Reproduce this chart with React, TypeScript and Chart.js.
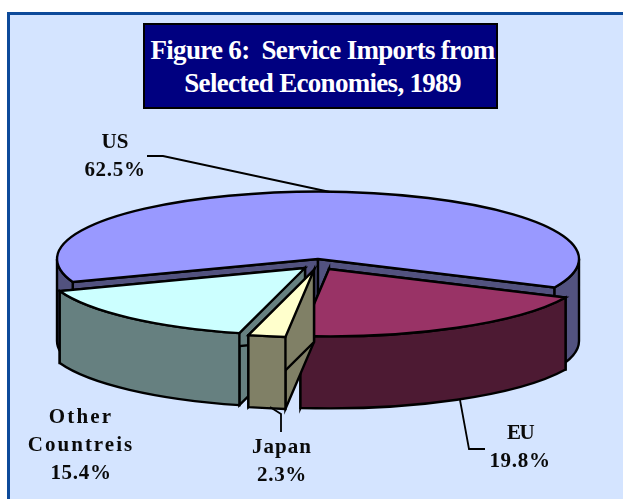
import React, { useEffect, useRef } from "react";
import { Chart, registerables } from "chart.js";

Chart.register(...registerables);

const categories = ["US", "EU", "Japan", "Other Countreis"];
const shares = [62.5, 19.8, 2.3, 15.4];
const valueLabels = ["62.5%", "19.8%", "2.3%", "15.4%"];
const topColors = ["#9999ff", "#993366", "#ffffcc", "#ccffff"];
const wallColors = ["#52527f", "#4d1a33", "#808066", "#668080"];
const explodeX = [0, 11, -4, -13];
const explodeY = [0, 10, 11, 9];
const depths = [82, 72, 72, 72];
const drawOrder = [0, 3, 1, 2];

const CX = 318;
const CY = 259;
const RX = 261;
const SQUASH = 0.258;
const OUTLINE = "#000000";

const labelLayout = [
  { lines: ["US", valueLabels[0]], x: 115, y: [143, 171], spacing: [0, 0.7] },
  { lines: ["EU", valueLabels[1]], x: 520, y: [434, 462], spacing: [-1.5, 0.7] },
  { lines: ["Japan", valueLabels[2]], x: 282, y: [448, 476], spacing: [1, 0.7] },
  { lines: ["Other", "Countreis", valueLabels[3]], x: 81, y: [418, 446, 474], spacing: [2.2, 2, 0.7] },
];
const leaders = [
  [[147, 156], [163, 156], [330, 192]],
  [[460, 400], [469, 449], [485, 449]],
  [[270, 407], [281, 414], [281, 432]],
];

const pie3d = {
  id: "pie3d",
  beforeDatasetsDraw(chart: any) {
    const ctx: CanvasRenderingContext2D = chart.ctx;
    const arcs = chart.getDatasetMeta(0).data;
    ctx.save();
    ctx.lineJoin = "miter";
    ctx.lineWidth = 2.4;
    ctx.strokeStyle = OUTLINE;
    for (const i of drawOrder) {
      const arc = arcs[i];
      const { startAngle: a0, endAngle: a1, outerRadius: r } = arc.getProps(["startAngle", "endAngle", "outerRadius"]);
      const cx = CX + explodeX[i];
      const cy = CY + explodeY[i];
      const ry = r * SQUASH;
      const d = depths[i];
      const px = (a: number) => cx + Math.cos(a) * r;
      const py = (a: number) => cy + Math.sin(a) * ry;

      ctx.fillStyle = wallColors[i];
      for (const a of [a0, a1]) {
        ctx.beginPath();
        ctx.moveTo(cx, cy);
        ctx.lineTo(px(a), py(a));
        ctx.lineTo(px(a), py(a) + d);
        ctx.lineTo(cx, cy + d);
        ctx.closePath();
        ctx.fill();
        ctx.stroke();
      }

      const ranges: [number, number][] = [];
      for (let k = -1; k <= 2; k++) {
        const s = Math.max(a0, k * 2 * Math.PI);
        const e = Math.min(a1, k * 2 * Math.PI + Math.PI);
        if (e > s) ranges.push([s, e]);
      }
      for (const [s, e] of ranges) {
        ctx.beginPath();
        ctx.ellipse(cx, cy, r, ry, 0, s, e, false);
        ctx.ellipse(cx, cy + d, r, ry, 0, e, s, true);
        ctx.closePath();
        ctx.fill();
        ctx.stroke();
      }

      ctx.save();
      ctx.translate(cx, cy);
      ctx.scale(1, SQUASH);
      ctx.translate(-arc.x, -arc.y);
      arc.draw(ctx);
      ctx.restore();

      ctx.beginPath();
      ctx.moveTo(cx, cy);
      ctx.ellipse(cx, cy, r, ry, 0, a0, a1, false);
      ctx.closePath();
      ctx.stroke();
    }

    ctx.lineWidth = 1.8;
    for (const path of leaders) {
      ctx.beginPath();
      path.forEach(([x, y], k) => (k ? ctx.lineTo(x, y) : ctx.moveTo(x, y)));
      ctx.stroke();
    }

    ctx.fillStyle = "#0a0a0a";
    ctx.font = 'bold 21px "Liberation Serif"';
    ctx.textAlign = "center";
    ctx.textBaseline = "middle";
    for (const item of labelLayout) {
      item.lines.forEach((t, k) => {
        (ctx as any).letterSpacing = `${item.spacing[k]}px`;
        ctx.fillText(t, item.x, item.y[k]);
      });
    }
    ctx.restore();
    return false;
  },
};

export default function App() {
  const ref = useRef<HTMLCanvasElement>(null);
  useEffect(() => {
    document.body.style.margin = "0";
    document.body.style.background = "#ffffff";
    const chart = new Chart(ref.current!, {
      type: "pie",
      data: {
        labels: categories,
        datasets: [{ data: shares, backgroundColor: topColors, borderWidth: 0 }],
      },
      options: {
        responsive: false,
        animation: false,
        rotation: 250,
        radius: RX,
        layout: { padding: 0 },
        events: [],
        plugins: { legend: { display: false }, tooltip: { enabled: false }, title: { display: false } },
      },
      plugins: [pie3d],
    } as any);
    return () => chart.destroy();
  }, []);
  return (
    <div style={{ position: "relative", width: 623, height: 499, overflow: "hidden", background: "#ffffff" }}>
      <div
        style={{
          position: "absolute",
          left: 7,
          top: 12,
          width: 640,
          height: 520,
          background: "#d4e4ff",
          border: "3px solid #0d4a9a",
          boxSizing: "border-box",
        }}
      />
      <div
        style={{
          position: "absolute",
          left: 143,
          top: 23,
          width: 355,
          height: 86,
          boxSizing: "border-box",
          background: "#000080",
          border: "2px solid #000000",
          color: "#ffffff",
          fontFamily: '"Liberation Serif"',
          fontWeight: "bold",
          fontSize: 27,
          letterSpacing: "-0.7px",
          lineHeight: "33px",
          textAlign: "center",
          paddingTop: 9,
          paddingLeft: 4,
          whiteSpace: "pre",
        }}
      >
        {"Figure 6:  Service Imports from\nSelected Economies, 1989"}
      </div>
      <canvas ref={ref} width={623} height={499} style={{ position: "absolute", left: 0, top: 0 }} />
    </div>
  );
}
